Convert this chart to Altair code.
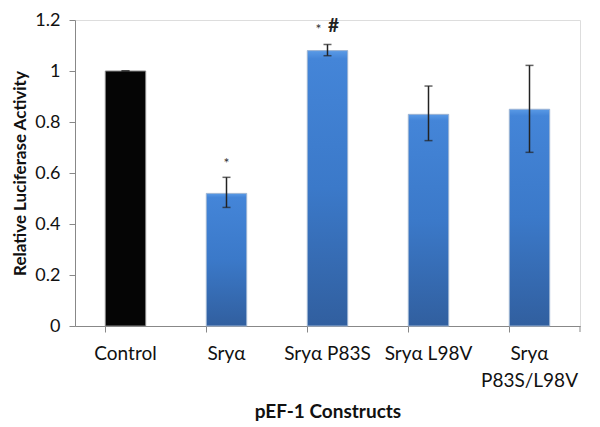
import altair as alt
import pandas as pd

categories = ["Control", "Sryα", "Sryα P83S", "Sryα L98V", "Sryα\nP83S/L98V"]
values = [1.0, 0.52, 1.08, 0.83, 0.85]
err_low = [1.0, 0.465, 1.06, 0.727, 0.681]
err_high = [1.0, 0.583, 1.104, 0.941, 1.022]
star_cats = ["Sryα", "Sryα P83S"]
hash_cats = ["Sryα P83S"]

df = pd.DataFrame({"cat": categories, "value": values, "lo": err_low, "hi": err_high})
stars = df[df["cat"].isin(star_cats)].copy()
stars["label"] = "*"
hashes = df[df["cat"].isin(hash_cats)].copy()
hashes["label"] = "#"

W, H = 505, 306
FONT = "Lato"

xenc = alt.X("cat:N", sort=categories, scale=alt.Scale(paddingInner=0.6, paddingOuter=0.3),
             axis=alt.Axis(title="pEF-1 Constructs", labelAngle=0, bandPosition=0,
                           labelExpr="split(datum.label, '\\n')",
                           labelFontSize=19, labelColor="#111", labelFont=FONT,
                           labelPadding=12, labelLineHeight=27,
                           titleFontSize=19, titleFont=FONT, titleFontWeight="bold",
                           titleColor="#111", titlePadding=12,
                           tickSize=6, tickColor="#888", domainColor="#888"))
yscale = alt.Scale(domain=[0, 1.2], nice=False)
yenc = alt.Y("value:Q", scale=yscale,
             axis=alt.Axis(title="Relative Luciferase Activity", values=[0, 0.2, 0.4, 0.6, 0.8, 1.0, 1.2],
                           format="~g", grid=False, labelFontSize=18, labelColor="#111",
                           labelFont=FONT, labelPadding=9, tickSize=6, tickColor="#888",
                           domainColor="#888", titleFontSize=17, titleFont=FONT,
                           titleFontWeight="bold", titleColor="#111", titlePadding=5))

base = alt.Chart(df)

blue_grad = {"x1": 0, "y1": 0, "x2": 0, "y2": 1, "gradient": "linear",
             "stops": [{"offset": 0, "color": "#5a9ae6"}, {"offset": 0.03, "color": "#4485d8"},
                       {"offset": 0.5, "color": "#3b79c9"}, {"offset": 1, "color": "#315f9f"}]}

bars_blue = base.transform_filter(alt.datum.cat != "Control").mark_bar(
    color=blue_grad, stroke="#9db4d3", strokeWidth=1).encode(x=xenc, y=yenc)
bars_black = base.transform_filter(alt.datum.cat == "Control").mark_bar(
    color="#050505", stroke="#888", strokeWidth=1).encode(x=xenc, y=yenc)

err_rule = base.mark_rule(color="#222", strokeWidth=1.5).encode(
    x=alt.X("cat:N", sort=categories), y=alt.Y("lo:Q", scale=yscale), y2="hi:Q")
cap_lo = base.mark_tick(color="#222", thickness=1.5, size=8, orient="horizontal").encode(
    x=alt.X("cat:N", sort=categories), y=alt.Y("lo:Q", scale=yscale))
cap_hi = base.mark_tick(color="#222", thickness=1.5, size=8, orient="horizontal").encode(
    x=alt.X("cat:N", sort=categories), y=alt.Y("hi:Q", scale=yscale))

star_a = alt.Chart(stars[stars["cat"] == "Sryα"]).mark_text(
    fontSize=14, font=FONT, color="#333", dy=-13).encode(
    x=alt.X("cat:N", sort=categories), y=alt.Y("hi:Q", scale=yscale), text="label:N")
star_b = alt.Chart(stars[stars["cat"] == "Sryα P83S"]).mark_text(
    fontSize=14, font=FONT, color="#333", dy=-14, dx=-9).encode(
    x=alt.X("cat:N", sort=categories), y=alt.Y("hi:Q", scale=yscale), text="label:N")
hash_b = alt.Chart(hashes).mark_text(
    fontSize=19, font=FONT, fontWeight="bold", color="#222", dy=-18, dx=6).encode(
    x=alt.X("cat:N", sort=categories), y=alt.Y("hi:Q", scale=yscale), text="label:N")

end_tick = alt.Chart(df.head(1)).mark_rule(color="#888").encode(
    x=alt.value(W), y=alt.value(H), y2=alt.value(H + 6))

chart = alt.layer(bars_black, bars_blue, err_rule, cap_lo, cap_hi, star_a, star_b, hash_b, end_tick).properties(
    width=W, height=H,
    autosize=alt.AutoSizeParams(type="none"),
    padding={"left": 67, "top": 12, "right": 12, "bottom": 100},
).configure_view(stroke=None).configure(font=FONT)

chart.save("out.html", embed_options={"renderer": "svg", "actions": False})
